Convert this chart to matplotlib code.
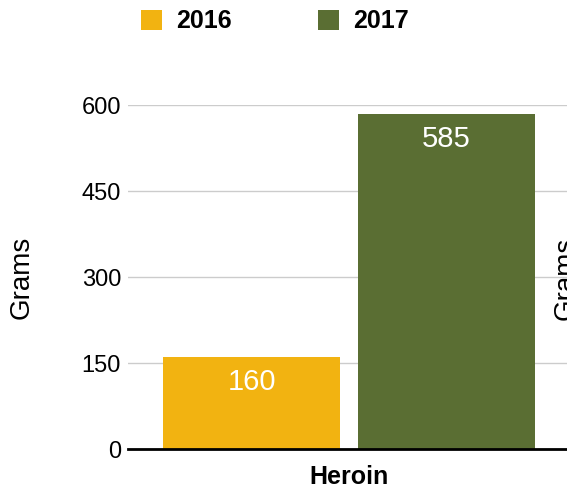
import matplotlib
matplotlib.use("Agg")
import matplotlib.pyplot as plt
from matplotlib.patches import Patch

plt.rcParams['font.family'] = ['Liberation Sans', 'DejaVu Sans']

categories = ["Heroin"]
series_names = ["2016", "2017"]
values_2016 = [160]
values_2017 = [585]
yticks = [0, 150, 300, 450, 600]
colors = ["#F2B311", "#5A6E33"]

fig = plt.figure(figsize=(5.67, 4.91), dpi=100)
ax = fig.add_axes([128/567, 1-449/491, 442/567, (449-105)/491])

width = 0.4
offsets = [-0.22, 0.22]
for vals, off, col in zip([values_2016, values_2017], offsets, colors):
    xs = [i + off for i in range(len(categories))]
    bars = ax.bar(xs, vals, width=width, color=col, zorder=3)
    for b, v in zip(bars, vals):
        ax.annotate(str(v), (b.get_x() + b.get_width()/2, v), xytext=(0, -8),
                    textcoords="offset points", ha="center", va="top",
                    color="white", fontsize=21, zorder=4)

ax.set_xlim(-0.5, 0.5)
ax.set_ylim(0, 600)
ax.set_yticks(yticks)
ax.set_yticklabels([str(t) for t in yticks], fontsize=17)
ax.set_xticks(range(len(categories)))
ax.set_xticklabels(categories, fontsize=18, fontweight="bold")
ax.tick_params(axis="x", length=0, pad=11.5)
ax.tick_params(axis="y", length=0, pad=5)
ax.grid(axis="y", color="#CCCCCC", linewidth=1, zorder=0)
for s in ["top", "right", "left"]:
    ax.spines[s].set_visible(False)
ax.spines["bottom"].set_linewidth(2)
ax.spines["bottom"].set_color("black")
ax.spines["bottom"].set_zorder(5)
ax.set_ylabel("Grams", fontsize=20)
ax.yaxis.set_label_coords(-(128-35)/442, 0.5)

handles = [Patch(facecolor=c, edgecolor="none") for c in colors]
fig.legend(handles, series_names, loc="upper left", bbox_to_anchor=(118/567, 1.027),
           ncol=2, frameon=False, prop={"weight": "bold", "size": 18},
           handlelength=0.85, handleheight=0.85, columnspacing=3.46, handletextpad=0.57)

fig.text(553/567, 1-278/491, "Grams", rotation=90, ha="left", va="center", fontsize=20)

fig.savefig("out.png", dpi=100)
